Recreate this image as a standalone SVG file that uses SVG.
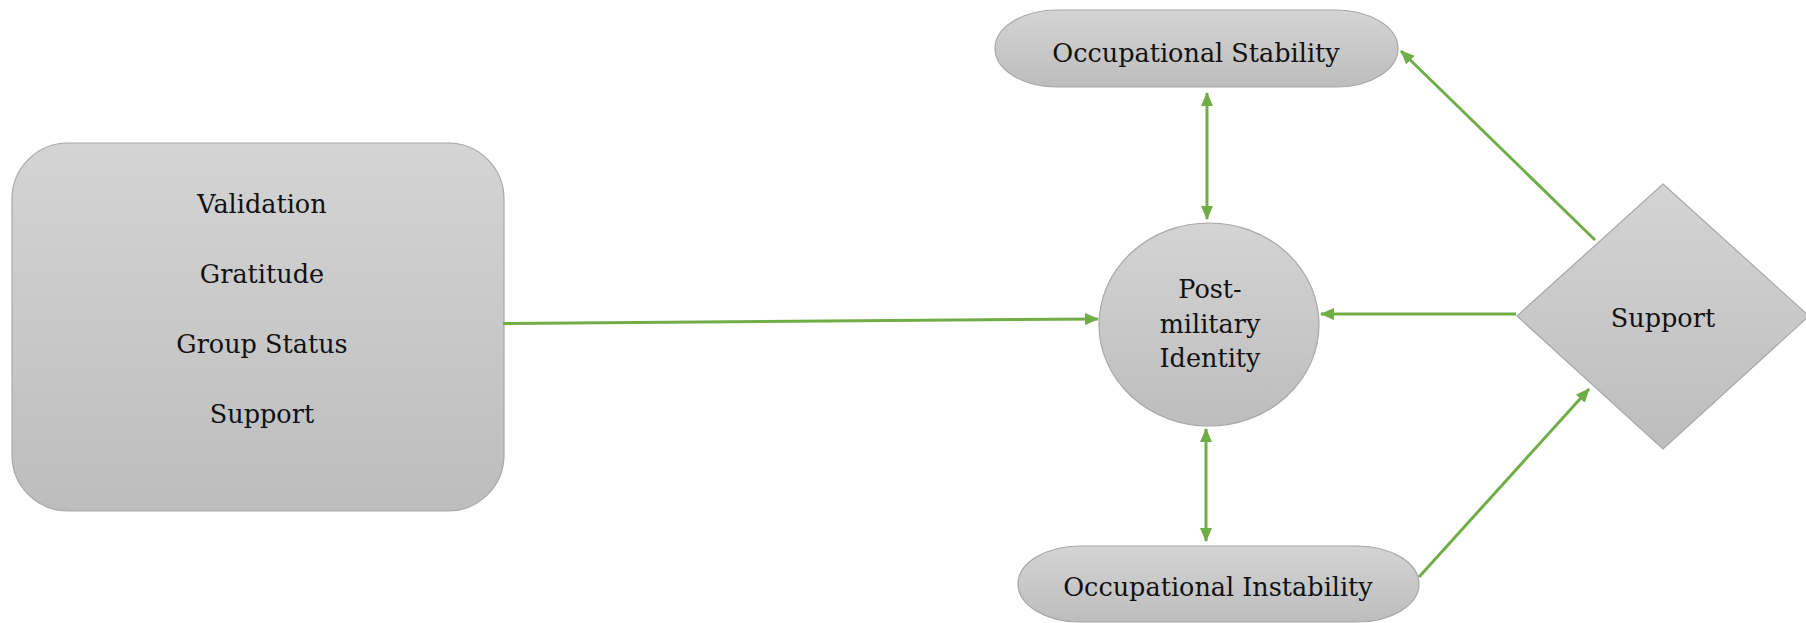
<svg xmlns="http://www.w3.org/2000/svg" width="1806" height="623" viewBox="0 0 1806 623">
  <defs>
    <linearGradient id="shade" x1="0" y1="0" x2="0" y2="1">
      <stop offset="0" stop-color="#d4d4d4"/>
      <stop offset="1" stop-color="#bdbdbd"/>
    </linearGradient>
    <marker id="arrow" viewBox="0 0 14 12" markerWidth="14" markerHeight="12" refX="13" refY="6" orient="auto-start-reverse" markerUnits="userSpaceOnUse">
      <path d="M0,0 L14,6 L0,12 z" fill="#70ad47"/>
    </marker>
    <style>
      .shape { fill: url(#shade); stroke: #a8a8a8; stroke-width: 1.2; }
      .label { font-family: "DejaVu Serif", "Liberation Serif", serif; font-size: 25.5px; fill: #111111; text-anchor: middle; }
      .link { stroke: #70ad47; stroke-width: 3; fill: none; }
    </style>
  </defs>
  <rect width="1806" height="623" fill="#ffffff"/>

  <!-- factors box -->
  <g id="factors">
    <rect class="shape" x="12" y="143" width="492" height="368" rx="56" ry="56"/>
    <text class="label" x="262" y="213">Validation</text>
    <text class="label" x="262" y="283">Gratitude</text>
    <text class="label" x="262" y="353">Group Status</text>
    <text class="label" x="262" y="423">Support</text>
  </g>

  <!-- occupational stability -->
  <g id="stability">
    <rect class="shape" x="995" y="10" width="403" height="77" rx="62" ry="38.5"/>
    <text class="label" x="1196" y="62">Occupational Stability</text>
  </g>

  <!-- post-military identity -->
  <g id="identity">
    <ellipse class="shape" cx="1209" cy="324.5" rx="110" ry="101.5"/>
    <text class="label" x="1210" y="298">Post-</text>
    <text class="label" x="1210" y="333">military</text>
    <text class="label" x="1210" y="367">Identity</text>
  </g>

  <!-- support decision -->
  <g id="support">
    <polygon class="shape" points="1663,184 1809,316 1663,449 1517,316"/>
    <text class="label" x="1663" y="327">Support</text>
  </g>

  <!-- occupational instability -->
  <g id="instability">
    <rect class="shape" x="1018" y="546" width="401" height="76" rx="62" ry="38"/>
    <text class="label" x="1218" y="596">Occupational Instability</text>
  </g>

  <!-- connectors -->
  <g id="connectors">
    <line class="link" x1="503" y1="323.5" x2="1098" y2="319" marker-end="url(#arrow)"/>
    <line class="link" x1="1207" y1="93" x2="1207" y2="219" marker-start="url(#arrow)" marker-end="url(#arrow)"/>
    <line class="link" x1="1206" y1="429" x2="1206" y2="541" marker-start="url(#arrow)" marker-end="url(#arrow)"/>
    <line class="link" x1="1516" y1="314" x2="1321" y2="314" marker-end="url(#arrow)"/>
    <line class="link" x1="1595" y1="240" x2="1401" y2="51" marker-end="url(#arrow)"/>
    <line class="link" x1="1419" y1="577" x2="1589" y2="389" marker-end="url(#arrow)"/>
  </g>
</svg>
